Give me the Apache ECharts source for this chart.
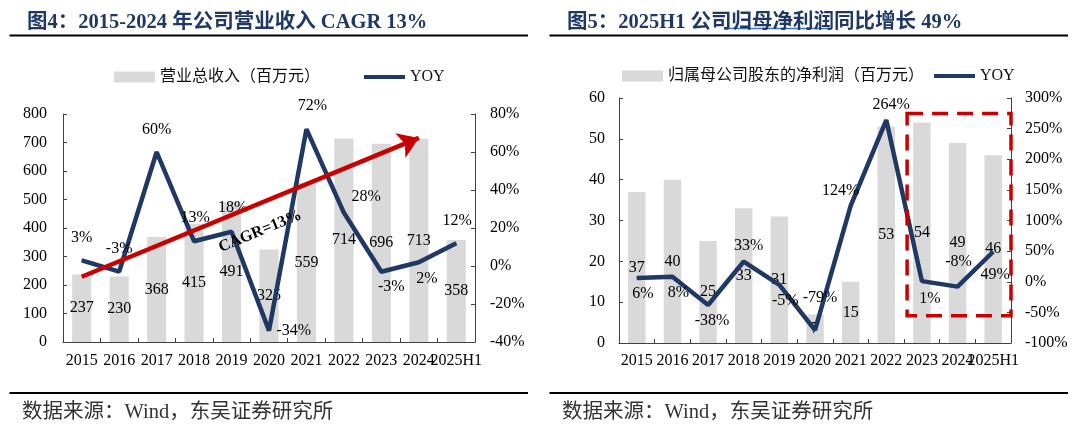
<!DOCTYPE html>
<html>
<head>
<meta charset="utf-8">
<script src="https://cdn.jsdelivr.net/npm/echarts@6/dist/echarts.min.js"></script>
<style>
html,body{margin:0;padding:0;background:#fff;}
#wrap{position:relative;width:1080px;height:432px;overflow:hidden;}
.c{position:absolute;top:0;width:540px;height:432px;}
</style>
</head>
<body>
<div id="wrap">
  <div id="c1" class="c" style="left:0"></div>
  <div id="c2" class="c" style="left:540px"></div>
</div>
<script>
// ---------- data ----------
const categories = ['2015','2016','2017','2018','2019','2020','2021','2022','2023','2024','2025H1'];
const revenue    = [237, 230, 368, 415, 491, 325, 559, 714, 696, 713, 358];
const revenueYoy = [3, -3, 60, 13, 18, -34, 72, 28, -3, 2, 12];
const profit     = [37, 40, 25, 33, 31, 7, 15, 53, 54, 49, 46];
const profitYoy  = [6, 8, -38, 33, -5, -79, 124, 264, 1, -8, 49];
const cagrArrow  = [['2015', 229], ['2024', 716]];      // annotation endpoints (data space)
const boxRange   = { from: '2023', to: '2025H1', top: 56.2, bottom: 6.7 }; // highlight box (data space)

const title1 = '图4：2015-2024 年公司营业收入 CAGR 13%';
const title2pre = '图5：2025H1 公司';
const title2ul = '归母净利润';
const title2post = '同比增长 49%';
const barName1 = '营业总收入（百万元）';
const barName2 = '归属母公司股东的净利润（百万元）';
const source = '数据来源：Wind，东吴证券研究所';

// ---------- styles ----------
const SERIF = "'Liberation Serif','Times New Roman','Noto Sans CJK SC',serif";
const NAVY = '#1F3864';
const BAR = '#D9D9D9';
const AXIS = '#404040';
const RED = '#C80000';
const LINE_ICON = 'path://M0,0H40V4H0Z';

// label placement styles for YOY lines
const pos1 = ['top','top','top','top','top','right','top','right','bottom','bottom','top'];
const off1 = [[0,-7],[0,-7],[0,-7],[1,-8],[1,-9],[0,0],[6,-8],[0,-16],[10,0],[8,1],[1,-7]];
const pos2 = ['bottom','bottom','bottom','top','bottom','top','top','top','bottom','top','bottom'];
const off2 = [[6,0],[6,0],[4,0],[5,0],[6,0],[5,-17],[-10,0],[5,0],[8,2],[1,-9],[2,8]];

function lineData(vals, pos, off) {
  return vals.map((v, i) => ({ value: v, label: { position: pos[i], offset: off[i] } }));
}

function frameGraphics(textStr) {
  return [
    { id: 'tline', type: 'line', shape: { x1: 9.5, y1: 35.5, x2: 528, y2: 35.5 }, style: { stroke: '#000', lineWidth: 1.8 }, silent: true },
    { id: 'bline', type: 'line', shape: { x1: 9.5, y1: 393, x2: 528, y2: 393 }, style: { stroke: '#000', lineWidth: 1.8 }, silent: true },
    { id: 'src', type: 'text', left: 22, top: 402, style: { text: textStr, fontFamily: SERIF, fontSize: 20.5, fill: '#333' }, silent: true }
  ];
}

function axisCommon(extra) {
  return Object.assign({
    axisLine: { show: true, lineStyle: { color: AXIS, width: 1 } },
    axisTick: { show: true, inside: true, length: 4, lineStyle: { color: AXIS } },
    splitLine: { show: false },
  }, extra);
}

function makeOption(cfg) {
  return {
    animation: false,
    title: {
      text: cfg.title, left: 22, top: 7,
      textStyle: { fontFamily: SERIF, fontSize: 20.5, fontWeight: 'bold', color: NAVY }
    },
    legend: {
      left: cfg.legendLeft, top: cfg.legendTop, itemWidth: 41, itemHeight: 11, itemGap: cfg.legendGap,
      symbolKeepAspect: true,
      textStyle: { fontFamily: SERIF, fontSize: 16, color: '#111' },
      data: [{ name: cfg.barName, icon: 'rect' }, { name: 'YOY', icon: LINE_ICON }]
    },
    grid: Object.assign({ outerBoundsMode: 'none', containLabel: false }, cfg.grid),
    xAxis: axisCommon({
      type: 'category', data: categories, boundaryGap: true,
      axisTick: { show: true, inside: true, length: 4, alignWithLabel: false, lineStyle: { color: AXIS } },
      axisLabel: { interval: 0, hideOverlap: false, margin: cfg.xMargin, fontFamily: SERIF, fontSize: 16, color: '#000' }
    }),
    yAxis: [
      axisCommon({
        type: 'value', min: cfg.y0[0], max: cfg.y0[1], interval: cfg.y0[2], position: 'left',
        axisLabel: { margin: cfg.yMargin[0], fontFamily: SERIF, fontSize: 16, color: '#000' }
      }),
      axisCommon({
        type: 'value', min: cfg.y1[0], max: cfg.y1[1], interval: cfg.y1[2], position: 'right',
        axisLabel: { margin: cfg.yMargin[1], formatter: '{value}%', fontFamily: SERIF, fontSize: 16, color: '#000' }
      })
    ],
    series: [
      Object.assign({
        name: cfg.barName, type: 'bar', data: cfg.bars, barWidth: cfg.barWidth, yAxisIndex: 0,
        itemStyle: { color: BAR },
        label: { show: true, position: 'inside', fontFamily: SERIF, fontSize: 16, color: '#000' },
        z: 2
      }, cfg.barExtra || {}),
      {
        name: 'YOY', type: 'line', yAxisIndex: 1, data: lineData(cfg.yoy, cfg.pos, cfg.off),
        symbol: 'circle', symbolSize: 1, showSymbol: true,
        lineStyle: { color: NAVY, width: 4.5 }, itemStyle: { color: NAVY },
        label: { show: true, distance: 7, formatter: '{c}%', fontFamily: SERIF, fontSize: 16, color: '#000' },
        z: 3
      }
    ],
    graphic: cfg.graphics
  };
}

// ---------- chart 1 ----------
const chart1 = echarts.init(document.getElementById('c1'), null, { renderer: 'canvas' });
chart1.setOption(makeOption({
  title: title1, barName: barName1, legendLeft: 109, legendTop: 64, legendGap: 44,
  grid: { left: 63, right: 65, top: 114, bottom: 90 },
  xMargin: 11, yMargin: [16, 15],
  y0: [0, 800, 100], y1: [-40, 80, 20],
  bars: revenue, yoy: revenueYoy, pos: pos1, off: off1, barWidth: '51%',
  barExtra: {
    markLine: {
      silent: true, z: 10,
      symbol: ['none', 'arrow'], symbolSize: 20, symbolOffset: [0, 0],
      lineStyle: { color: RED, width: 4.5, type: 'solid', opacity: 1 },
      itemStyle: { color: RED },
      label: {
        show: true, formatter: 'CAGR=13%', position: 'insideMiddleBottom', distance: 18,
        fontFamily: SERIF, fontSize: 16, fontWeight: 'bold', color: '#000'
      },
      emphasis: { disabled: true },
      data: [[{ coord: cagrArrow[0] }, { coord: cagrArrow[1], symbol: 'arrow', symbolSize: 20 }]]
    }
  },
  graphics: frameGraphics(source)
}));

// ---------- chart 2 ----------
const chart2 = echarts.init(document.getElementById('c2'), null, { renderer: 'canvas' });
const graphics2 = frameGraphics(source);
chart2.setOption(makeOption({
  title: title2pre + title2ul + title2post, barName: barName2, legendLeft: 77, legendTop: 63, legendGap: 10,
  grid: { left: 79, right: 69, top: 98, bottom: 89 },
  xMargin: 10, yMargin: [14, 14],
  y0: [0, 60, 10], y1: [-100, 300, 50],
  bars: profit, yoy: profitYoy, pos: pos2, off: off2, barWidth: '49%',
  graphics: graphics2
}));

// underline under 归母净利润 in title 2, measured from the title font
const ctx = document.createElement('canvas').getContext('2d');
ctx.font = 'bold 20.5px ' + SERIF;
const preW = ctx.measureText(title2pre).width;
const ulW = ctx.measureText(title2ul).width;

// dashed highlight box through the chart's own scales
const xFrom = chart2.convertToPixel({ xAxisIndex: 0 }, boxRange.from);
const xPrev = chart2.convertToPixel({ xAxisIndex: 0 }, categories[categories.indexOf(boxRange.from) - 1]);
const xTo = chart2.convertToPixel({ xAxisIndex: 0 }, boxRange.to);
const half = (xFrom - xPrev) / 2;
const bx0 = xFrom - half + 3;
const bx1 = xTo + half;
const by0 = chart2.convertToPixel({ yAxisIndex: 0 }, boxRange.top);
const by1 = chart2.convertToPixel({ yAxisIndex: 0 }, boxRange.bottom);

chart2.setOption({
  graphic: graphics2.concat([
    { id: 'ul', type: 'line', shape: { x1: 22 + preW, y1: 28.5, x2: 22 + preW + ulW, y2: 28.5 }, style: { stroke: '#4472C4', lineWidth: 1.5 }, silent: true },
    { id: 'box', type: 'rect', z: 100, shape: { x: bx0, y: by0, width: bx1 - bx0, height: by1 - by0 },
      style: { fill: 'none', stroke: RED, lineWidth: 3.5, lineDash: [16, 9] }, silent: true }
  ])
});
</script>
</body>
</html>
